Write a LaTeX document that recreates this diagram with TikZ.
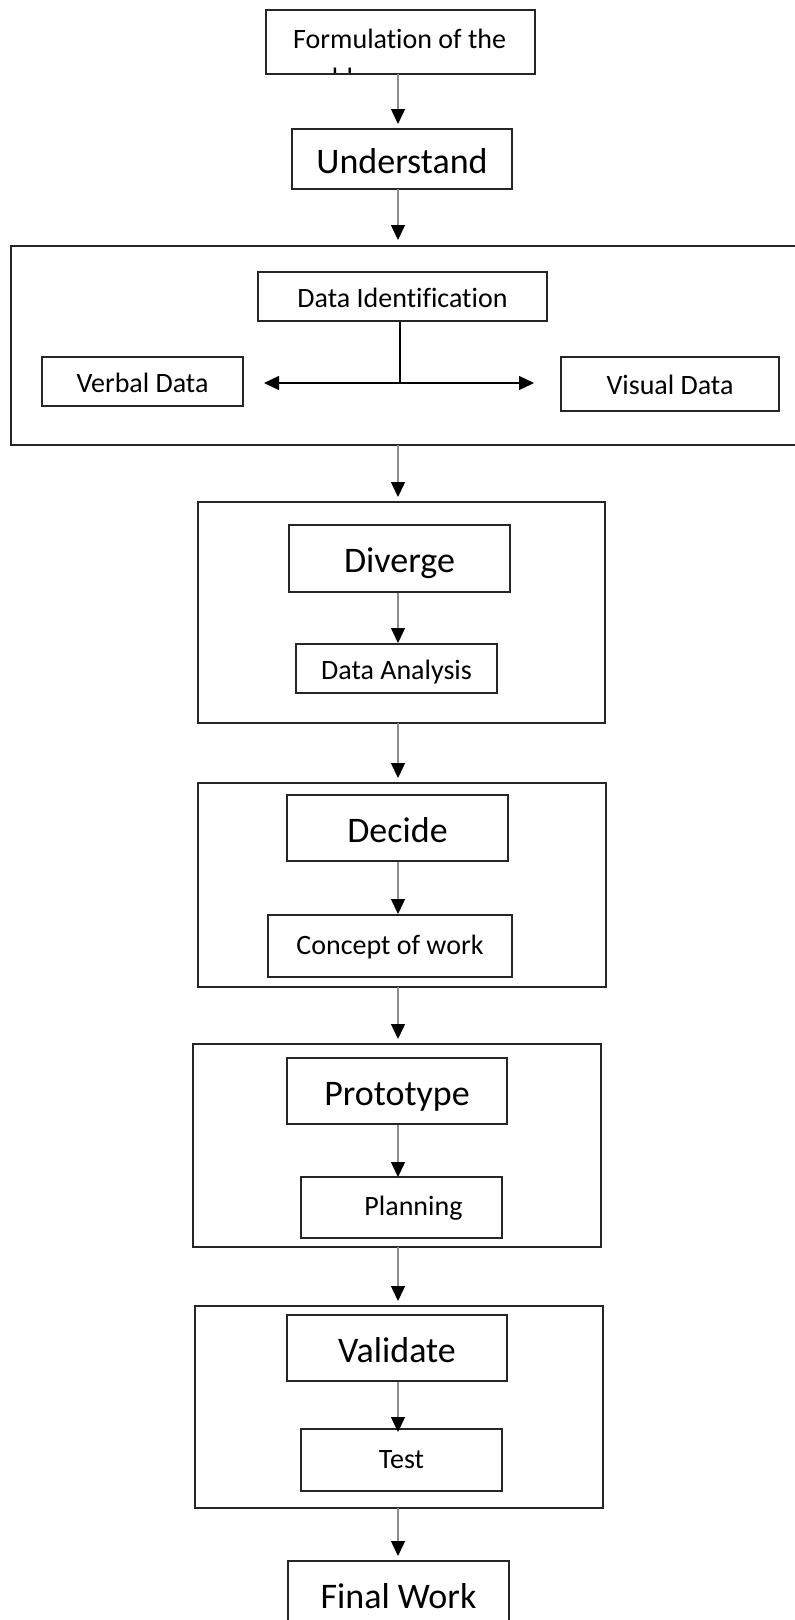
\documentclass[tikz,border=0pt]{standalone}
\usepackage{fontspec}
\setmainfont{Carlito}[Ligatures=NoCommon]
\usepackage{tikz}
\usetikzlibrary{arrows.meta,calc}

\begin{document}
\begin{tikzpicture}[
    x=1pt, y=-1pt,
    box/.style={rectangle, draw=black!85, line width=1.2pt, inner sep=0pt, text height=22pt, text depth=1pt, font=\fontsize{28}{34}\selectfont},
    bigbox/.style={box, text height=30pt, text depth=2pt, font=\fontsize{36}{43}\selectfont},
    group/.style={rectangle, draw=black!85, line width=1.2pt, inner sep=0pt},
    flow/.style={-{Triangle[width=14pt,length=15pt,color=black]}, draw=black!45, line width=1.4pt},
    outflow/.style={flow, shorten >=5pt},
    split/.style={{Triangle[width=14pt,length=15pt]}-{Triangle[width=14pt,length=15pt]}, black, line width=1.4pt}
]
    \useasboundingbox (0,0) rectangle (795,1620);

    % top of the flow
    \begin{scope}
        \clip (266,10) rectangle (535,74);
        \node[anchor=base west, inner sep=0pt, align=left, font=\fontsize{28}{39}\selectfont] (formtext) at (293,87) {Formulation of the\\problem};
    \end{scope}
    \node[box, minimum width=269, minimum height=64] (formulation) at (400.5,42) {};
    \node[bigbox, minimum width=220, minimum height=60] (understand) at (402,159) {Understand};

    % data identification
    \node[group, minimum width=819, minimum height=199] (datagrp) at (420.5,345.5) {};
    \node[box, minimum width=289, minimum height=49] (dataid) at (402.5,296.5) {Data Identification};
    \node[box, minimum width=201, minimum height=49] (verbal) at (142.5,381.5) {Verbal Data};
    \node[box, minimum width=218, minimum height=54] (visual) at (670,384) {Visual Data};
    \coordinate (fork) at (400,383);
    \coordinate (verbalend) at (264,383);
    \coordinate (visualend) at (534,383);

    % diverge
    \node[group, minimum width=407, minimum height=221] (divgrp) at (401.5,612.5) {};
    \node[bigbox, minimum width=221, minimum height=67] (diverge) at (399.5,558.5) {Diverge};
    \node[box, minimum width=201, minimum height=49] (analysis) at (396.5,668.5) {Data Analysis};

    % decide
    \node[group, minimum width=408, minimum height=204] (decgrp) at (402,885) {};
    \node[bigbox, minimum width=221, minimum height=66] (decide) at (397.5,828) {Decide};
    \node[box, text depth=6pt, minimum width=244, minimum height=62] (concept) at (390,946) {Concept of work};

    % prototype
    \node[group, minimum width=408, minimum height=203] (progrp) at (397,1145.5) {};
    \node[bigbox, minimum width=220, minimum height=66] (prototype) at (397,1091) {Prototype};
    \node[box, text depth=6pt, minimum width=201, minimum height=61] (planning) at (401.5,1207.5) {\hspace*{24pt}Planning};

    % validate
    \node[group, minimum width=408, minimum height=202] (valgrp) at (399,1407) {};
    \node[bigbox, minimum width=220, minimum height=66] (validate) at (397,1348) {Validate};
    \node[box, text depth=6pt, minimum width=201, minimum height=62] (test) at (401.5,1460) {Test};

    \node[bigbox, minimum width=221, minimum height=66] (final) at (398.5,1594) {Final Work};

    % connectors
    \draw[outflow] (398,74) -- (398,129);
    \draw[outflow] (398,189) -- (398,245);
    \draw[black, line width=1.4pt] (dataid.south -| fork) -- (fork);
    \draw[split] (verbalend) -- (visualend);
    \draw[outflow] (398,445) -- (398,502);
    \draw[flow] (diverge.south -| 398,0) -- (398,643);
    \draw[outflow] (398,723) -- (398,783);
    \draw[flow] (decide.south -| 398,0) -- (398,914);
    \draw[outflow] (398,987) -- (398,1044);
    \draw[flow] (prototype.south -| 398,0) -- (398,1177);
    \draw[outflow] (398,1247) -- (398,1306);
    \draw[flow] (validate.south -| 398,0) -- (398,1432);
    \draw[outflow] (398,1508) -- (398,1561);
\end{tikzpicture}
\end{document}
